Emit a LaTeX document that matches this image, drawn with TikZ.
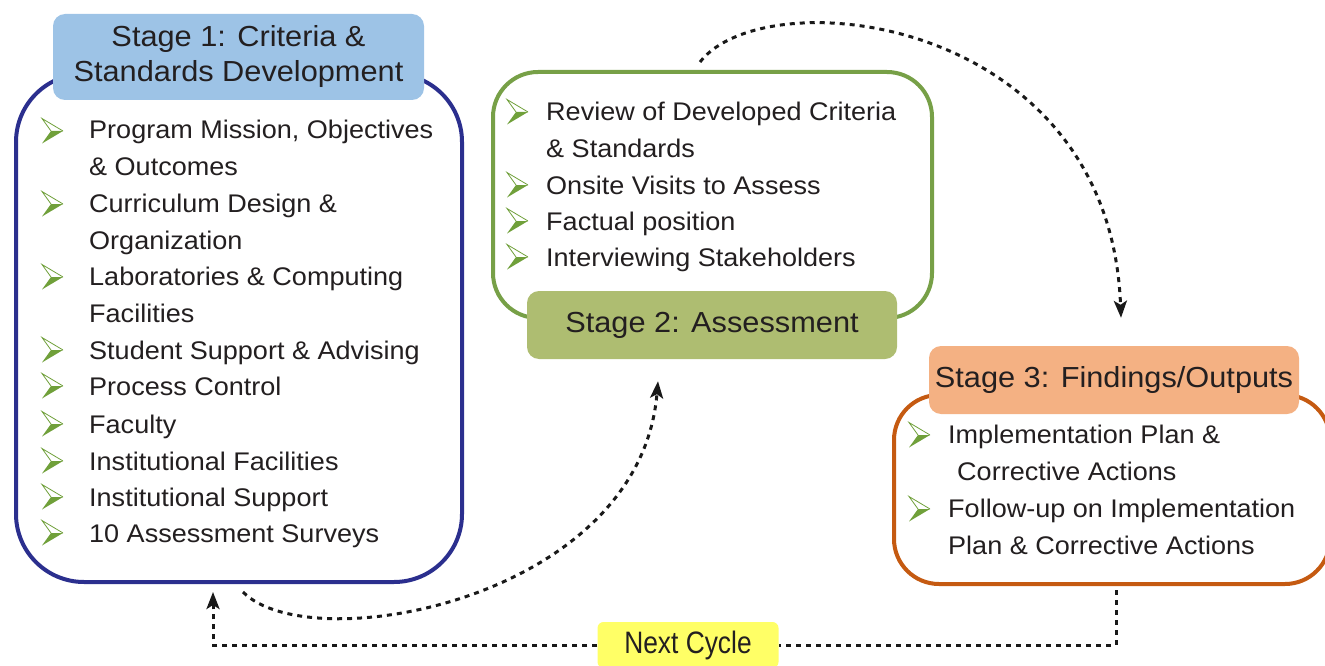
\documentclass[tikz,border=0pt]{standalone}
\usepackage{fontspec}
\setmainfont{Liberation Sans}[FakeStretch=1.06]
\newfontfamily\narrowfont{Liberation Sans}[FakeStretch=0.85]
\usetikzlibrary{arrows.meta,calc}

\definecolor{s1line}{RGB}{43,47,142}
\definecolor{s1head}{RGB}{157,195,230}
\definecolor{s2line}{RGB}{119,160,71}
\definecolor{s2head}{RGB}{174,189,113}
\definecolor{s3line}{RGB}{197,90,17}
\definecolor{s3head}{RGB}{244,177,131}
\definecolor{bgreen}{RGB}{112,160,58}
\definecolor{nexty}{RGB}{255,255,102}
\definecolor{ink}{RGB}{35,31,32}

\tikzset{
  stagebox/.style={draw=#1,line width=4pt,fill=white,inner sep=0pt},
  stagehead/.style={fill=#1,rounded corners=12pt,inner sep=0pt,text=ink,
    align=center,font=\fontsize{29}{35}\selectfont},
  item/.style={anchor=west,inner sep=0pt,text=ink,align=left,
    font=\fontsize{25.5}{36.6}\selectfont,
    execute at begin node=\strut,execute at end node=\strut},
  cycline/.style={line width=3pt,dash pattern=on 5pt off 5pt,black!90},
  cycarrow/.style={cycline,-{Stealth[length=17pt,width=13pt,inset=4pt]}},
  barrow/.pic={
    \fill[bgreen] (9,0) -- (21,0) -- (0,12.5) -- cycle;
    \draw[bgreen,line width=0.8pt,line join=miter] (9,0) -- (0,-12.5) -- (21,0);
  }
}

\begin{document}
\begin{tikzpicture}[x=1pt,y=-1pt]
\useasboundingbox (0,0) rectangle (1325,666);

% stage boxes
\path (239,328) node[stagebox=s1line,rounded corners=68pt,minimum width=446pt,minimum height=508pt](s1box){}
      (712.5,195) node[stagebox=s2line,rounded corners=45pt,minimum width=439pt,minimum height=246pt](s2box){}
      (1112,489.5) node[stagebox=s3line,rounded corners=45pt,minimum width=436pt,minimum height=189pt](s3box){};

% headers
\path (238.5,57) node[stagehead=s1head,minimum width=371pt,minimum height=86pt](s1head){Stage 1: Criteria \&\\Standards Development}
      (712,325) node[stagehead=s2head,minimum width=370pt,minimum height=68pt](s2head){Stage 2: Assessment}
      (1114,380) node[stagehead=s3head,minimum width=370pt,minimum height=68pt](s3head){Stage 3: Findings/Outputs};

% stage 1 items
\foreach \a/\y/\t [count=\i] in {131/153/{Program Mission, Objectives\\\& Outcomes},
    204/227/{Curriculum Design \&\\Organization},
    277/300/{Laboratories \& Computing\\Facilities},
    350/352/{Student Support \& Advising},
    386/388/{Process Control},
    424/426/{Faculty},
    461/463/{Institutional Facilities},
    497/499/{Institutional Support},
    533/535/{10 Assessment Surveys}}{
  \pic at (42,\a) {barrow};
  \node[item] (s1i\i) at (89,\y) {\t};
}

% stage 2 items
\foreach \a/\y/\t [count=\i] in {112/135/{Review of Developed Criteria\\\& Standards},
    185/187/{Onsite Visits to Assess},
    221/223/{Factual position},
    257/259/{Interviewing Stakeholders}}{
  \pic at (507,\a) {barrow};
  \node[item] (s2i\i) at (546,\y) {\t};
}

% stage 3 items
\foreach \a/\y/\t [count=\i] in {435/458/{Implementation Plan \&\\\hspace*{9pt}Corrective Actions},
    509/532/{Follow-up on Implementation\\Plan \& Corrective Actions}}{
  \pic at (909,\a) {barrow};
  \node[item] (s3i\i) at (948,\y) {\t};
}

% cycle connectors
\coordinate (s2out) at ($(s2box.north)+(-12.5,-8)$);
\coordinate (s3in) at ($(s3head.north)+(7,-28)$);
\coordinate (s1out) at ($(s1box.south)+(4,8)$);
\coordinate (s2in) at ($(s2head.south)+(-54,22)$);
\coordinate (s3out) at ($(s3box.south)+(4,4)$);
\coordinate (s1in) at ($(s1box.south)+(-26,8)$);
\draw[cycarrow] (s2out) .. controls (765,-22) and (1110,15) .. (s3in);
\draw[cycarrow] (s1out) .. controls (310,660) and (640,600) .. (s2in);
\path (688,645) node[fill=nexty,rounded corners=6pt,minimum width=181pt,minimum height=46pt,
      text=ink,font={\fontsize{31}{36}\selectfont\narrowfont}](next){Next Cycle};
\draw[cycline] (s3out) |- (next.east);
\draw[cycarrow] (next.west) -| (s1in);
\end{tikzpicture}
\end{document}
